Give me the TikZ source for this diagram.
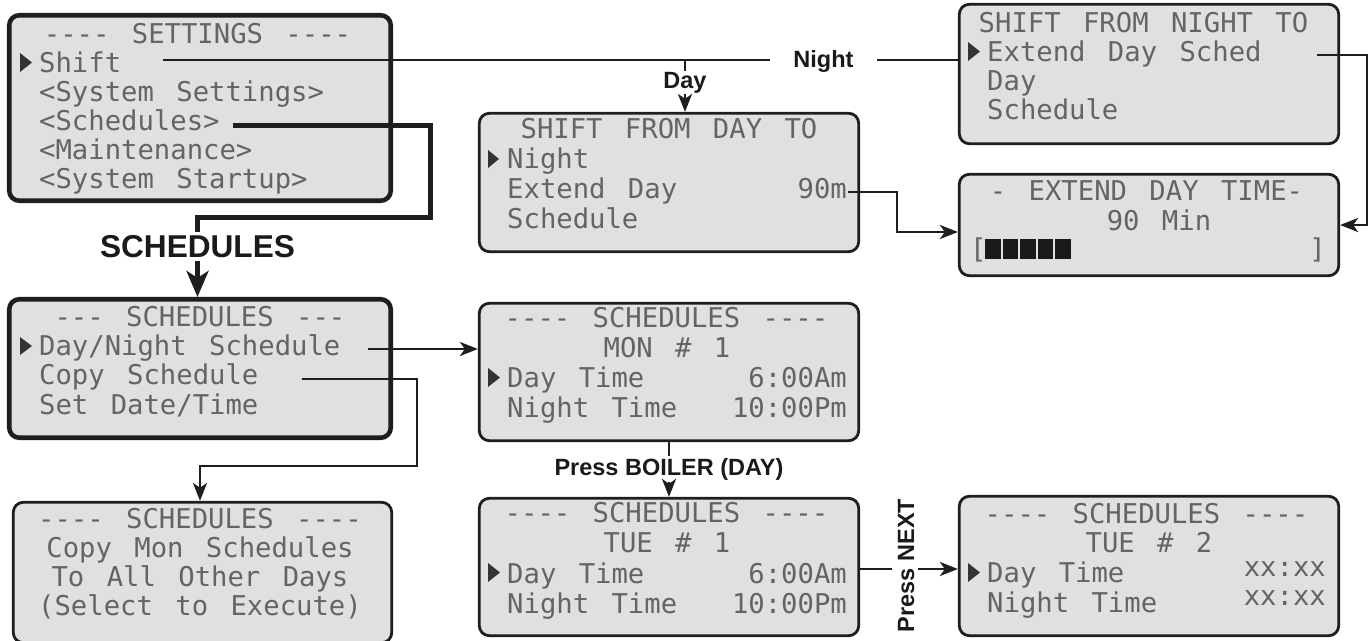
\documentclass[tikz,border=0pt]{standalone}
\usepackage{fontspec}
\setmainfont{Liberation Sans}
\newfontfamily\lcdfont[WordSpace=1.366,Ligatures=TeXOff]{DejaVu Sans Mono}
\usetikzlibrary{arrows.meta}
\definecolor{lcdbg}{HTML}{E0E0E0}
\definecolor{lcdink}{HTML}{646464}
\definecolor{framec}{HTML}{1E1E1E}
\definecolor{lblc}{HTML}{1A1A1A}
\tikzset{
  lcdbox/.style={rectangle, draw=framec, line width=2.8pt, fill=lcdbg, rounded corners=10pt, inner sep=0pt},
  lcdthick/.style={lcdbox, line width=4.6pt},
  lcdtxt/.style={inner sep=0pt, text=lcdink, font=\lcdfont\fontsize{27.24}{30}\selectfont},
  lcdl/.style={lcdtxt, anchor=base west},
  lcdr/.style={lcdtxt, anchor=base east},
  lcdc/.style={lcdtxt, anchor=base},
  lbl/.style={text=lblc, font=\bfseries\fontsize{23.5}{26}\selectfont, inner sep=2pt},
  biglbl/.style={text=lblc, font=\bfseries\fontsize{31.6}{34}\selectfont, inner sep=3pt},
  conn/.style={draw=framec, line width=2.9pt},
  connthick/.style={draw=framec, line width=5pt},
  arr/.style={-{Stealth[length=18pt,width=14pt,inset=5pt]}},
  arrbig/.style={-{Stealth[length=26pt,width=22pt,inset=7pt]}},
  ptr/.style={fill=black!80},
  barblk/.style={fill=black!90}
}
\begin{document}
\begin{tikzpicture}[x=1pt,y=-1pt]
\useasboundingbox (0,0) rectangle (1371,640);

% ---------- boxes ----------
\node[lcdthick, minimum width=381.5pt, minimum height=185.5pt] (settings) at (200,108) {};
\node[lcdbox, minimum width=379.4pt, minimum height=138.4pt] (dayto) at (669,182.5) {};
\node[lcdbox, minimum width=379.4pt, minimum height=139.4pt] (nightto) at (1149,74) {};
\node[lcdbox, minimum width=379.4pt, minimum height=101.4pt] (extend) at (1149,225) {};
\node[lcdthick, minimum width=381.5pt, minimum height=138.5pt] (schedmenu) at (200,368.5) {};
\node[lcdbox, minimum width=378.4pt, minimum height=140.4pt] (copy) at (202.5,572.5) {};
\node[lcdbox, minimum width=379.4pt, minimum height=137.4pt] (mon) at (669,372) {};
\node[lcdbox, minimum width=379.4pt, minimum height=137.4pt] (tueone) at (669,567) {};
\node[lcdbox, minimum width=379.4pt, minimum height=139.4pt] (tuetwo) at (1149,566) {};

% ---------- SETTINGS ----------
\node[lcdc] (stT) at (197.5,43) {---- SETTINGS ----};
\fill[ptr] (20,53) -- (32,62.5) -- (20,72) -- cycle;
\node[lcdl] (stA) at (39,72) {Shift};
\node[lcdl] (stB) at (39,101) {<System Settings>};
\node[lcdl] (stC) at (39,130) {<Schedules>};
\node[lcdl] (stD) at (39,159) {<Maintenance>};
\node[lcdl] (stE) at (39,188) {<System Startup>};

% ---------- SHIFT FROM DAY TO ----------
\node[lcdc] (dtT) at (669,138) {SHIFT FROM DAY TO};
\fill[ptr] (488,150) -- (499,159) -- (488,168) -- cycle;
\node[lcdl] (dtA) at (507,168) {Night};
\node[lcdl] (dtB) at (507,198) {Extend Day};
\node[lcdr] (dtBr) at (847,198) {90m};
\node[lcdl] (dtC) at (507,228) {Schedule};

% ---------- SHIFT FROM NIGHT TO ----------
\node[lcdc] (ntT) at (1143.5,32) {SHIFT FROM NIGHT TO};
\fill[ptr] (968,42) -- (980,51.5) -- (968,61) -- cycle;
\node[lcdl] (ntA) at (987,61) {Extend Day Sched};
\node[lcdl] (ntB) at (987,90) {Day};
\node[lcdl] (ntC) at (987,119) {Schedule};

% ---------- EXTEND DAY TIME ----------
\node[lcdc] (exT) at (1146.5,200) {- EXTEND DAY TIME-};
\node[lcdc] (exA) at (1159,230) {90 Min};
\node[lcdl] (exL) at (970,258) {[};
\node[lcdr] (exR) at (1326,258) {]};
\foreach \i in {0,...,4} {
  \fill[barblk] ({985+\i*17.5},239) rectangle ({985+\i*17.5+15.8},259);
}

% ---------- SCHEDULES menu ----------
\node[lcdc] (smT) at (200,326) {--- SCHEDULES ---};
\fill[ptr] (20,337) -- (32,346) -- (20,355) -- cycle;
\node[lcdl] (smA) at (39,355) {Day/Night Schedule};
\node[lcdl] (smB) at (39,384) {Copy Schedule};
\node[lcdl] (smC) at (39,414) {Set Date/Time};

% ---------- Copy ----------
\node[lcdc] (cpT) at (200,528) {---- SCHEDULES ----};
\node[lcdc] (cpA) at (200,557) {Copy Mon Schedules};
\node[lcdc] (cpB) at (200,586) {To All Other Days};
\node[lcdc] (cpC) at (200,615) {(Select to Execute)};

% ---------- MON ----------
\node[lcdc] (mnT) at (666.5,327) {---- SCHEDULES ----};
\node[lcdc] (mnA) at (667,357) {MON \# 1};
\fill[ptr] (488,368) -- (500,377.5) -- (488,387) -- cycle;
\node[lcdl] (mnB) at (507,387) {Day Time};
\node[lcdr] (mnBr) at (847,387) {6:00Am};
\node[lcdl] (mnC) at (507,417) {Night Time};
\node[lcdr] (mnCr) at (847,417) {10:00Pm};

% ---------- TUE 1 ----------
\node[lcdc] (t1T) at (666.5,522) {---- SCHEDULES ----};
\node[lcdc] (t1A) at (667,552) {TUE \# 1};
\fill[ptr] (488,563) -- (500,572.5) -- (488,582) -- cycle;
\node[lcdl] (t1B) at (507,583) {Day Time};
\node[lcdr] (t1Br) at (847,583) {6:00Am};
\node[lcdl] (t1C) at (507,613) {Night Time};
\node[lcdr] (t1Cr) at (847,613) {10:00Pm};

% ---------- TUE 2 ----------
\node[lcdc] (t2T) at (1146.5,523) {---- SCHEDULES ----};
\node[lcdc] (t2A) at (1149,552) {TUE \# 2};
\fill[ptr] (968,563) -- (980,572.5) -- (968,582) -- cycle;
\node[lcdl] (t2B) at (987,582) {Day Time};
\node[lcdr] (t2Br) at (1326,576) {xx:xx};
\node[lcdl] (t2C) at (987,612) {Night Time};
\node[lcdr] (t2Cr) at (1326,605) {xx:xx};

% ---------- connectors ----------
% Shift -> Night / Day
\coordinate (shiftend) at (163,60);
\coordinate (dayjoin) at (685,60);
\node[lbl, anchor=base, inner xsep=23.5pt] (nightlbl) at (823.5,67) {Night};
\node[lbl, anchor=base, inner sep=1pt] (daylbl) at (685,88) {Day};
\draw[conn] (shiftend) -- (shiftend -| nightlbl.west);
\draw[conn] (shiftend -| nightlbl.east) -- (shiftend -| nightto.west);
\draw[conn] (dayjoin) -- (daylbl.north);
\draw[conn, arr] (daylbl.south) -- (daylbl.south |- dayto.north);

% 90m -> Extend
\coordinate (ninety) at (848,192);
\coordinate (bendA) at (897,232);
\draw[conn, arr] (ninety) -| (bendA) -- (bendA -| extend.west);

% Extend Day Sched -> Extend
\coordinate (eds) at (1317,55);
\coordinate (bendB) at (1367,225);
\draw[conn, arr] (eds) -| (bendB) -- (bendB -| extend.east);

% <Schedules> -> SCHEDULES menu
\coordinate (schstart) at (233,125);
\coordinate (bendC) at (430,217);
\node[biglbl, anchor=base] (schlbl) at (197.5,257) {SCHEDULES};
\draw[connthick] (schstart) -| (bendC) -| (schlbl.north);
\draw[connthick, arrbig] (schlbl.south) -- (schlbl.south |- schedmenu.north);

% Day/Night Schedule -> MON
\coordinate (dn) at (368,349);
\draw[conn, arr] (dn) -- (dn -| mon.west);

% Copy Schedule -> Copy box
\coordinate (cp) at (302,379);
\coordinate (bendD) at (417,466);
\coordinate (cpin) at (200,466);
\draw[conn, arr] (cp) -| (bendD) -- (cpin) -- (cpin |- copy.north);

% MON -> TUE 1
\node[lbl, anchor=base] (boil) at (669,475) {Press BOILER (DAY)};
\draw[conn] (mon.south) -- (boil.north);
\draw[conn, arr] (boil.south) -- (tueone.north);

% TUE 1 -> TUE 2
\node[lbl, rotate=90, anchor=base] (nextlbl) at (914,565.5) {Press NEXT};
\coordinate (nxa) at (892,569);
\coordinate (nxb) at (918,569);
\draw[conn] (nxa -| tueone.east) -- (nxa);
\draw[conn, arr] (nxb) -- (nxb -| tuetwo.west);
\end{tikzpicture}
\end{document}
